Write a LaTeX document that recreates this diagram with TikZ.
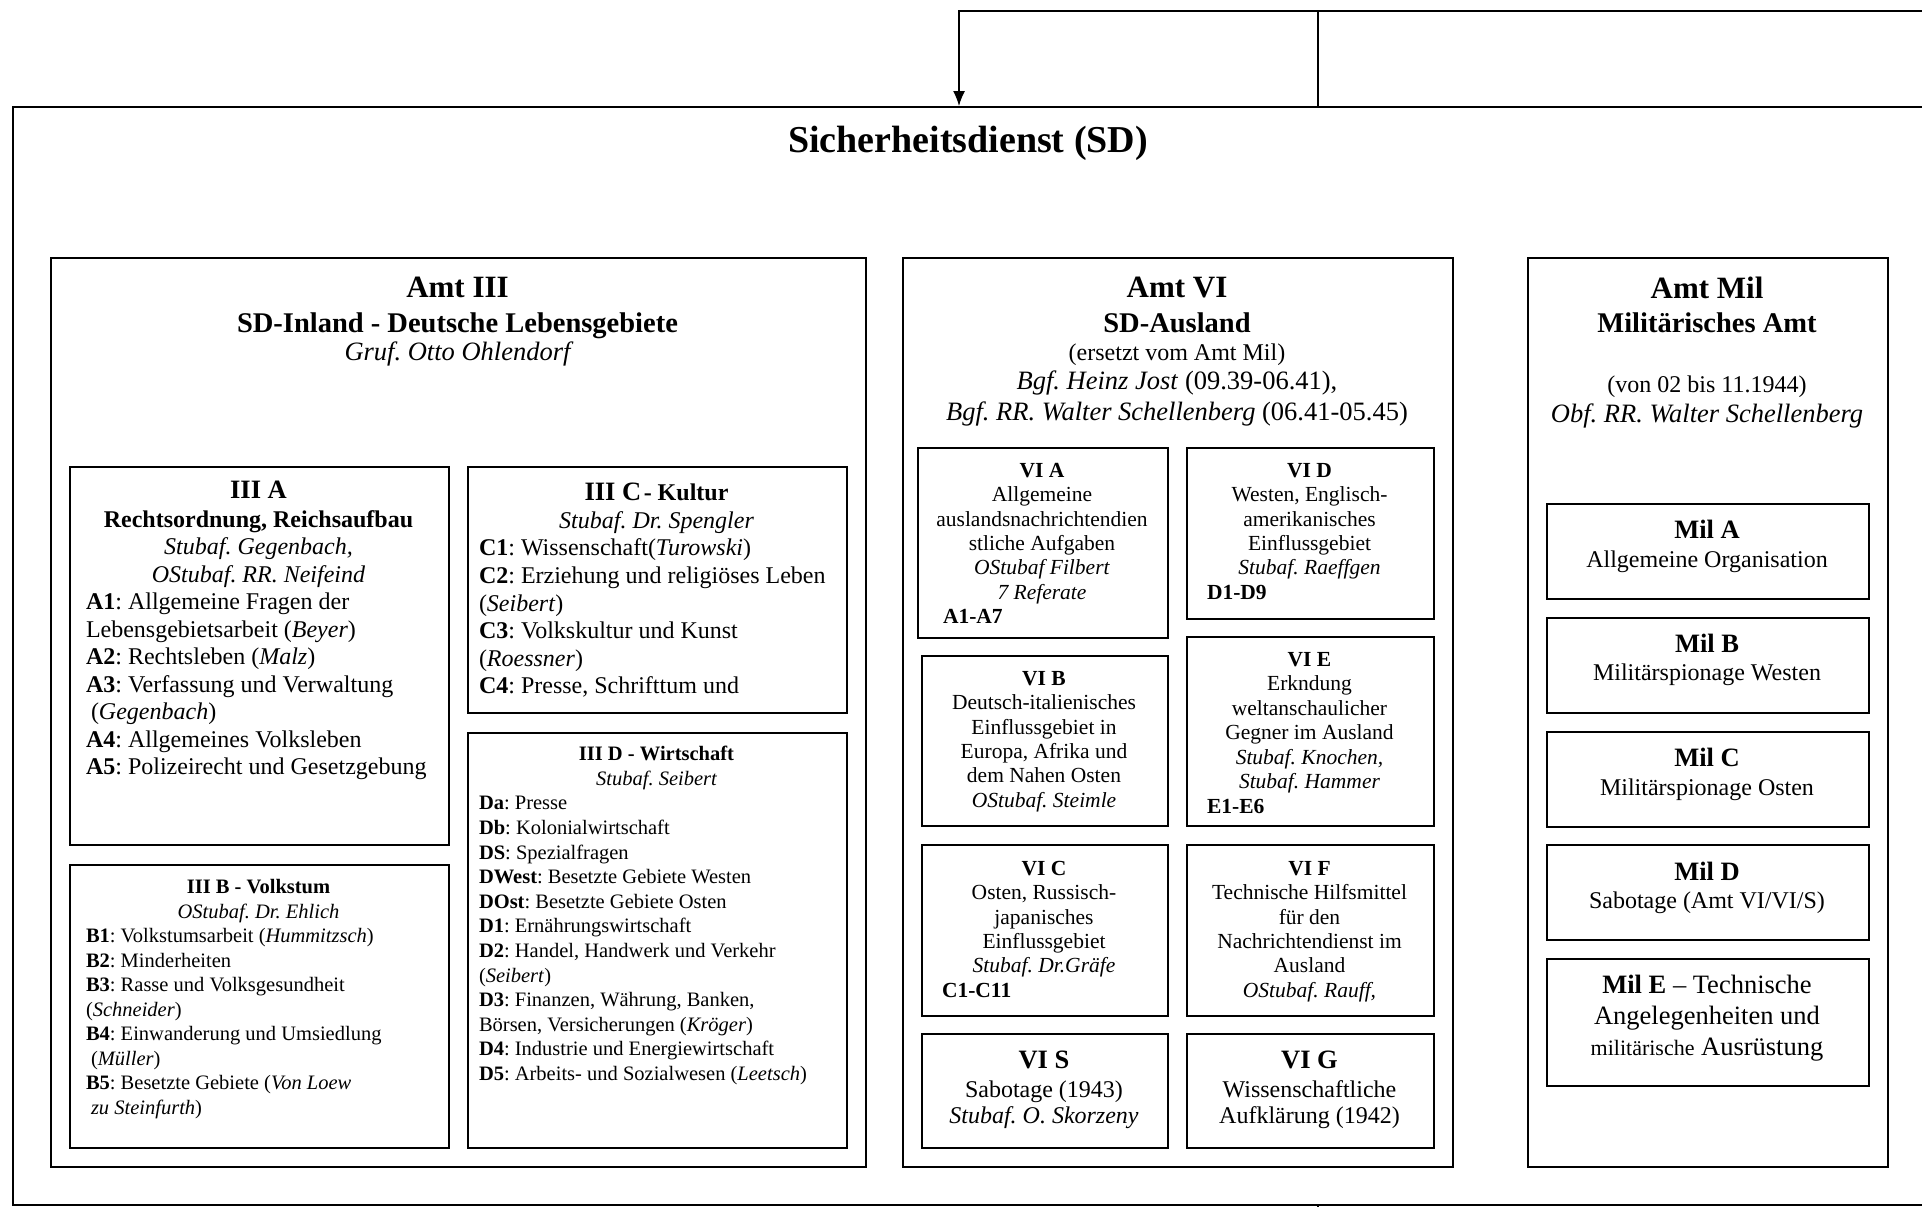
\documentclass[tikz,border=0pt]{standalone}
\usepackage{fontspec}
\setmainfont{Liberation Serif}
\usetikzlibrary{arrows.meta}
\setlength{\parindent}{0pt}
\frenchspacing
\newcommand\fsz[2]{\fontsize{#1}{#2}\selectfont\spaceskip=0pt\xspaceskip=0pt\relax}
\newcommand\fl{\rule{0pt}{24pt}}
\tikzset{
  unit/.style={draw, line width=1.6pt, inner sep=0pt, anchor=north west},
  ttl/.style={anchor=north, yshift=24pt, inner sep=0pt, align=flush center},
  lst/.style={anchor=north, yshift=24pt, inner sep=0pt, align=flush left},
  link/.style={line width=1.3pt}
}
\begin{document}
\begin{tikzpicture}[x=1pt,y=-1pt]
\useasboundingbox (0,0) rectangle (1922,1207);

% Sicherheitsdienst
\node[unit, line width=2pt, minimum width=1913pt, minimum height=1098pt] (sd) at (12,106) {};
\node[anchor=base, inner sep=0pt, font=\fsz{38}{44}\bfseries] (sdT) at (968,152) {Sicherheitsdienst (SD)};

\coordinate (feedR) at (1935,11);
\coordinate (feedL) at (959,11);
\coordinate (feedM) at (1318,11);
\coordinate (outB) at (1318,1220);
\draw[link, -{Latex[length=15pt,width=12pt]}] (feedR) -- (feedL) -- (feedL |- sd.north);
\draw[link] (feedM) -- (feedM |- sd.north);
\draw[link] (outB |- sd.south) -- (outB);

% Amt III
\node[unit, minimum width=815pt, minimum height=909pt] (amt3) at (50,257) {};
\node[ttl, text width=700pt] (amt3T) at (457.5,297) {%
  {\fsz{31}{35}\bfseries\fl Amt III\par}
  {\fsz{28.5}{35}\bfseries SD-Inland - Deutsche Lebensgebiete\par}
  {\fsz{26.5}{28}\itshape Gruf. Otto Ohlendorf\par}};

\node[unit, minimum width=379pt, minimum height=378pt] (iiiA) at (69,466) {};
\node[lst, text width=345pt] (iiiAT) at (258.5,498) {%
  {\centering\fsz{26.5}{28}\bfseries\fl III A\par}
  {\centering\fsz{24}{29}\bfseries Rechtsordnung, Reichsaufbau\par}
  {\centering\fsz{24}{27.5}\itshape Stubaf. Gegenbach,\\ OStubaf. RR. Neifeind\par}
  \fsz{24}{27.5}\textbf{A1}: Allgemeine Fragen der\\
  Lebensgebietsarbeit (\textit{Beyer})\\
  \textbf{A2}: Rechtsleben (\textit{Malz})\\
  \textbf{A3}: Verfassung und Verwaltung\\
  \hspace*{5pt}(\textit{Gegenbach})\\
  \textbf{A4}: Allgemeines Volksleben\\
  \textbf{A5}: Polizeirecht und Gesetzgebung\par};

\node[unit, minimum width=379pt, minimum height=246pt] (iiiC) at (467,466) {};
\node[lst, text width=355pt] (iiiCT) at (656.5,500) {%
  {\centering{\fsz{26.5}{28}\bfseries\fl III C} {\fsz{24}{28}\bfseries - Kultur}\par}
  {\centering\fsz{24}{28}\itshape Stubaf. Dr. Spengler\par}
  \fsz{24}{27.6}\textbf{C1}: Wissenschaft(\textit{Turowski})\\
  \textbf{C2}: Erziehung und religiöses Leben\\
  (\textit{Seibert})\\
  \textbf{C3}: Volkskultur und Kunst\\
  (\textit{Roessner})\\
  \textbf{C4}: Presse, Schrifttum und\par};

\node[unit, minimum width=379pt, minimum height=283pt] (iiiB) at (69,864) {};
\node[lst, text width=345pt] (iiiBT) at (258.5,893) {%
  {\centering\fsz{20.5}{24.5}\bfseries\fl III B - Volkstum\par}
  {\centering\fsz{20.5}{25}\itshape OStubaf. Dr. Ehlich\par}
  \fsz{20.5}{24.5}\textbf{B1}: Volkstumsarbeit (\textit{Hummitzsch})\\
  \textbf{B2}: Minderheiten\\
  \textbf{B3}: Rasse und Volksgesundheit\\
  (\textit{Schneider})\\
  \textbf{B4}: Einwanderung und Umsiedlung\\
  \hspace*{5pt}(\textit{Müller})\\
  \textbf{B5}: Besetzte Gebiete (\textit{Von Loew}\\
  \hspace*{5pt}\textit{zu Steinfurth})\par};

\node[unit, minimum width=379pt, minimum height=415pt] (iiiD) at (467,732) {};
\node[lst, text width=355pt] (iiiDT) at (656.5,760) {%
  {\centering\fsz{20.5}{24.6}\bfseries\fl III D - Wirtschaft\par}
  {\centering\fsz{20.5}{25}\itshape Stubaf. Seibert\par}
  \fsz{20.5}{24.6}\textbf{Da}: Presse\\
  \textbf{Db}: Kolonialwirtschaft\\
  \textbf{DS}: Spezialfragen\\
  \textbf{DWest}: Besetzte Gebiete Westen\\
  \textbf{DOst}: Besetzte Gebiete Osten\\
  \textbf{D1}: Ernährungswirtschaft\\
  \textbf{D2}: Handel, Handwerk und Verkehr\\
  (\textit{Seibert})\\
  \textbf{D3}: Finanzen, Währung, Banken,\\
  Börsen, Versicherungen (\textit{Kröger})\\
  \textbf{D4}: Industrie und Energiewirtschaft\\
  \textbf{D5}: Arbeits- und Sozialwesen (\textit{Leetsch})\par};

% Amt VI
\node[unit, minimum width=550pt, minimum height=909pt] (amt6) at (902,257) {};
\node[ttl, text width=520pt] (amt6T) at (1177,297) {%
  {\fsz{31}{35}\bfseries\fl Amt VI\par}
  {\fsz{28.5}{35}\bfseries SD-Ausland\par}
  {\fsz{24}{28}(ersetzt vom Amt Mil)\par}
  {\fsz{26.5}{29.5}\textit{Bgf. Heinz Jost} (09.39-06.41),\par}
  {\fsz{26.5}{31}\textit{Bgf. RR. Walter Schellenberg} (06.41-05.45)\par}};

\node[unit, minimum width=250pt, minimum height=190pt] (viA) at (917,447) {};
\node[ttl, text width=220pt] (viAT) at (1042,477) {\fsz{21.5}{24.4}%
  \fl\textbf{VI A}\\ Allgemeine\\ auslandsnachrichtendien\\ stliche Aufgaben\\
  \textit{OStubaf Filbert}\\ \textit{7 Referate}\par
  {\raggedright\hspace*{11pt}\textbf{A1-A7}\par}};

\node[unit, minimum width=247pt, minimum height=171pt] (viD) at (1186,447) {};
\node[ttl, text width=220pt] (viDT) at (1309.5,477) {\fsz{21.5}{24.4}%
  \fl\textbf{VI D}\\ Westen, Englisch-\\ amerikanisches\\ Einflussgebiet\\
  \textit{Stubaf. Raeffgen}\par
  {\raggedright\hspace*{7.5pt}\textbf{D1-D9}\par}};

\node[unit, minimum width=246pt, minimum height=170pt] (viB) at (921,655) {};
\node[ttl, text width=220pt] (viBT) at (1044,685) {\fsz{21.5}{24.4}%
  \fl\textbf{VI B}\\ Deutsch-italienisches\\ Einflussgebiet in\\ Europa, Afrika und\\
  dem Nahen Osten\\ \textit{OStubaf. Steimle}\par};

\node[unit, minimum width=247pt, minimum height=189pt] (viE) at (1186,636) {};
\node[ttl, text width=220pt] (viET) at (1309.5,666) {\fsz{21.5}{24.5}%
  \fl\textbf{VI E}\\ Erkndung\\ weltanschaulicher\\ Gegner im Ausland\\
  \textit{Stubaf. Knochen,}\\ \textit{Stubaf. Hammer}\par
  {\raggedright\hspace*{7.5pt}\textbf{E1-E6}\par}};

\node[unit, minimum width=246pt, minimum height=171pt] (viC) at (921,844) {};
\node[ttl, text width=220pt] (viCT) at (1044,875) {\fsz{21.5}{24.4}%
  \fl\textbf{VI C}\\ Osten, Russisch-\\ japanisches\\ Einflussgebiet\\
  \textit{Stubaf. Dr.Gräfe}\par
  {\raggedright\hspace*{8pt}\textbf{C1-C11}\par}};

\node[unit, minimum width=247pt, minimum height=171pt] (viF) at (1186,844) {};
\node[ttl, text width=230pt] (viFT) at (1309.5,875) {\fsz{21.5}{24.4}%
  \fl\textbf{VI F}\\ Technische Hilfsmittel\\ für den\\ Nachrichtendienst im\\
  Ausland\\ \textit{OStubaf. Rauff,}\par};

\node[unit, minimum width=246pt, minimum height=114pt] (viS) at (921,1033) {};
\node[ttl, text width=230pt] (viST) at (1044,1068) {%
  {\fsz{26.5}{29}\bfseries\fl VI S\par}
  {\fsz{24}{29}Sabotage (1943)\par}
  {\fsz{24}{26}\itshape Stubaf. O. Skorzeny\par}};

\node[unit, minimum width=247pt, minimum height=114pt] (viG) at (1186,1033) {};
\node[ttl, text width=230pt] (viGT) at (1309.5,1068) {%
  {\fsz{26.5}{29}\bfseries\fl VI G\par}
  {\fsz{24}{29}Wissenschaftliche\par}
  {\fsz{24}{26}Aufklärung (1942)\par}};

% Amt Mil
\node[unit, minimum width=360pt, minimum height=909pt] (amtMil) at (1527,257) {};
\node[ttl, text width=340pt] (amtMilT) at (1707,298) {%
  {\fsz{31}{35}\bfseries\fl Amt Mil\par}
  {\fsz{28.5}{34}\bfseries Militärisches Amt\par}
  {\fsz{24}{60}(von 02 bis 11.1944)\par}
  {\fsz{26.5}{30}\itshape Obf. RR. Walter Schellenberg\par}};

\node[unit, minimum width=322pt, minimum height=95pt] (milA) at (1546,503) {};
\node[ttl, text width=300pt] (milAT) at (1707,538) {%
  {\fsz{26.5}{29}\bfseries\fl Mil A\par}{\fsz{24}{29}Allgemeine Organisation\par}};
\node[unit, minimum width=322pt, minimum height=95pt] (milB) at (1546,617) {};
\node[ttl, text width=300pt] (milBT) at (1707,652) {%
  {\fsz{26.5}{29}\bfseries\fl Mil B\par}{\fsz{24}{28}Militärspionage Westen\par}};
\node[unit, minimum width=322pt, minimum height=95pt] (milC) at (1546,731) {};
\node[ttl, text width=300pt] (milCT) at (1707,766) {%
  {\fsz{26.5}{29}\bfseries\fl Mil C\par}{\fsz{24}{29}Militärspionage Osten\par}};
\node[unit, minimum width=322pt, minimum height=95pt] (milD) at (1546,844) {};
\node[ttl, text width=300pt] (milDT) at (1707,880) {%
  {\fsz{26.5}{29}\bfseries\fl Mil D\par}{\fsz{24}{28}Sabotage (Amt VI/VI/S)\par}};
\node[unit, minimum width=322pt, minimum height=127pt] (milE) at (1546,958) {};
\node[ttl, text width=300pt] (milET) at (1707,993) {\fsz{26.5}{31}%
  \fl\textbf{Mil E} -- Technische\\ Angelegenheiten und\\
  {\fsz{22}{31}militärische} Ausrüstung\par};
\end{tikzpicture}
\end{document}
